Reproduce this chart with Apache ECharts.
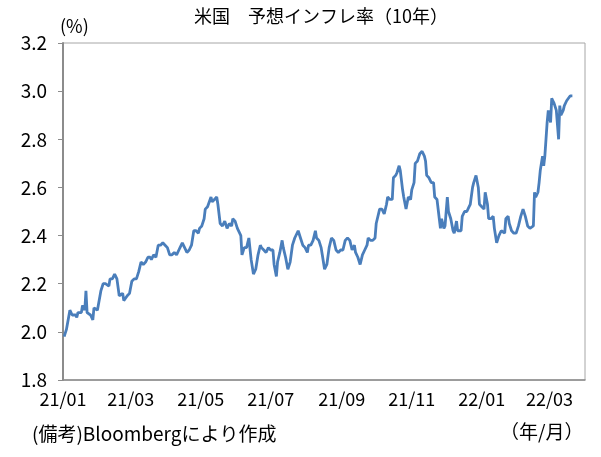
<!DOCTYPE html>
<html>
<head>
<meta charset="utf-8">
<script src="https://cdn.jsdelivr.net/npm/echarts@6/dist/echarts.min.js"></script>
<style>
  html, body { margin: 0; padding: 0; background: #fff; }
  #chart { width: 601px; height: 457px; }
</style>
</head>
<body>
<div id="chart"></div>
<script>
// days since 2021-01-01
const days = [
    1, 3, 6, 8, 11, 12, 13, 16, 17, 19,
    20, 21, 24, 26, 27, 30, 31, 33, 35, 37,
    40, 41, 43, 45, 47, 49, 52, 53, 56, 58,
    60, 62, 64, 66, 68, 70, 72, 74, 76, 77,
    79, 81, 83, 85, 87, 89, 91, 93, 95, 97,
    99, 101, 102, 104, 106, 108, 110, 112, 114, 116,
    118, 119, 121, 123, 124, 126, 129, 130, 132, 134,
    135, 137, 139, 141, 143, 145, 147, 148, 150, 152,
    154, 155, 156, 158, 160, 162, 164, 166, 168, 170,
    172, 173, 175, 177, 179, 181, 183, 184, 186, 187,
    189, 191, 192, 194, 196, 198, 200, 202, 205, 207,
    209, 211, 213, 214, 216, 218, 220, 221, 223, 225,
    226, 228, 230, 232, 234, 236, 238, 240, 242, 244,
    246, 248, 250, 252, 254, 255, 257, 259, 261, 263,
    265, 266, 268, 270, 272, 273, 274, 276, 278, 280,
    282, 283, 285, 287, 288, 290, 291, 293, 294, 296,
    297, 299, 301, 303, 304, 306, 307, 309, 311, 313,
    315, 316, 317, 319, 321, 323, 324, 326, 328, 329,
    330, 332, 333, 335, 336, 338, 340, 341, 343, 344,
    347, 348, 350, 352, 354, 355, 357, 358, 360, 362,
    363, 365, 367, 368, 370, 371, 373, 375, 376, 378,
    380, 382, 383, 385, 386, 388, 389, 391, 393, 395,
    397, 399, 401, 403, 405, 407, 410, 411, 412, 414,
    415, 416, 418, 419, 420, 421, 422, 423, 425, 426,
    427, 428, 430, 432, 433, 434, 436, 437, 439, 440,
    442, 444
];

// 10-year breakeven inflation rate (%)
const values = [
    1.98, 2.01, 2.09, 2.07, 2.07, 2.06, 2.08, 2.08, 2.11, 2.09,
    2.17, 2.08, 2.07, 2.05, 2.10, 2.09, 2.09, 2.17, 2.20, 2.20,
    2.19, 2.22, 2.22, 2.24, 2.22, 2.15, 2.16, 2.13, 2.15, 2.16,
    2.21, 2.22, 2.22, 2.25, 2.29, 2.28, 2.29, 2.31, 2.31, 2.30,
    2.32, 2.31, 2.36, 2.36, 2.37, 2.36, 2.35, 2.32, 2.32, 2.33,
    2.32, 2.34, 2.35, 2.37, 2.35, 2.33, 2.34, 2.36, 2.42, 2.42,
    2.41, 2.43, 2.44, 2.47, 2.51, 2.52, 2.56, 2.54, 2.55, 2.56,
    2.53, 2.45, 2.44, 2.46, 2.43, 2.45, 2.44, 2.47, 2.46, 2.43,
    2.41, 2.40, 2.32, 2.35, 2.35, 2.39, 2.30, 2.24, 2.26, 2.32,
    2.36, 2.35, 2.34, 2.33, 2.35, 2.34, 2.34, 2.28, 2.23, 2.29,
    2.33, 2.38, 2.35, 2.31, 2.26, 2.29, 2.36, 2.39, 2.42, 2.39,
    2.36, 2.35, 2.33, 2.36, 2.36, 2.38, 2.42, 2.39, 2.38, 2.35,
    2.32, 2.26, 2.28, 2.35, 2.39, 2.38, 2.34, 2.33, 2.34, 2.34,
    2.38, 2.39, 2.38, 2.34, 2.36, 2.33, 2.31, 2.28, 2.32, 2.34,
    2.36, 2.39, 2.38, 2.38, 2.39, 2.45, 2.47, 2.51, 2.51, 2.49,
    2.53, 2.56, 2.55, 2.55, 2.64, 2.65, 2.66, 2.69, 2.67, 2.59,
    2.56, 2.51, 2.56, 2.55, 2.59, 2.62, 2.70, 2.71, 2.74, 2.75,
    2.73, 2.71, 2.65, 2.64, 2.62, 2.62, 2.56, 2.55, 2.47, 2.43,
    2.47, 2.43, 2.44, 2.56, 2.50, 2.47, 2.42, 2.41, 2.46, 2.42,
    2.42, 2.48, 2.50, 2.50, 2.52, 2.53, 2.60, 2.62, 2.65, 2.60,
    2.53, 2.52, 2.51, 2.58, 2.53, 2.47, 2.47, 2.48, 2.43, 2.37,
    2.40, 2.42, 2.42, 2.41, 2.47, 2.48, 2.45, 2.42, 2.41, 2.41,
    2.44, 2.48, 2.51, 2.48, 2.44, 2.43, 2.44, 2.58, 2.56, 2.58,
    2.62, 2.67, 2.73, 2.69, 2.73, 2.80, 2.87, 2.92, 2.87, 2.97,
    2.96, 2.95, 2.92, 2.80, 2.94, 2.90, 2.92, 2.94, 2.96, 2.96,
    2.98, 2.98
];

// x labels: first day of each labelled month, as days since 2021-01-01
const tickDays = [0, 59, 120, 181, 243, 304, 365, 424];
const tickLabels = ['21/01', '21/03', '21/05', '21/07', '21/09', '21/11', '22/01', '22/03'];
const xEnd = 455; // 2022-04-01

const yMin = 1.8;
const yMax = 3.2;
const yStep = 0.2;

const titleText = '米国　予想インフレ率（10年）';
const unitText = '(%)';
const noteText = '(備考)Bloombergにより作成';
const xUnitText = '（年/月）';

function drawChart() {
    const myChart = echarts.init(document.getElementById('chart'), null, {
        renderer: 'canvas'
    });
    const font = '"Noto Sans CJK JP", "Noto Sans", sans-serif';
    const seriesData = days.map(function (d, i) {
        return [d, values[i]];
    });

    const option = {
        animation: false,
        textStyle: { fontFamily: font },
        grid: {
            left: 63,
            right: 16,
            top: 43,
            bottom: 77,
            show: true,
            borderColor: '#a6a6a6',
            borderWidth: 1
        },
        xAxis: {
            type: 'value',
            min: 0,
            max: xEnd,
            axisLine: { show: true, lineStyle: { color: '#8c8c8c', width: 1.5 } },
            axisTick: { show: false },
            splitLine: { show: false },
            axisLabel: {
                customValues: tickDays,
                color: '#000',
                fontSize: 18,
                fontFamily: font,
                margin: 10,
                formatter: function (v) {
                    const i = tickDays.indexOf(Math.round(v));
                    return i >= 0 ? tickLabels[i] : '';
                }
            }
        },
        yAxis: {
            type: 'value',
            min: yMin,
            max: yMax,
            interval: yStep,
            axisLine: { show: true, lineStyle: { color: '#8c8c8c', width: 2 } },
            axisTick: { show: true, inside: false, length: 5, lineStyle: { color: '#8c8c8c' } },
            splitLine: { show: false },
            axisLabel: {
                color: '#000',
                fontSize: 19,
                fontFamily: font,
                margin: 16,
                formatter: function (v) { return v.toFixed(1); }
            }
        },
        series: [{
            type: 'line',
            data: seriesData,
            showSymbol: false,
            lineStyle: { color: '#4a7ebb', width: 2.8 },
            itemStyle: { color: '#4a7ebb' }
        }],
        graphic: [{
            type: 'text',
            x: 321,
            y: 7,
            style: { text: titleText, fill: '#000', font: '18px ' + font, textAlign: 'center' }
        }, {
            type: 'text',
            left: 60,
            top: 17,
            style: { text: unitText, fill: '#000', font: '18px ' + font }
        }, {
            type: 'text',
            left: 32,
            top: 424,
            style: { text: noteText, fill: '#000', font: '19px ' + font }
        }, {
            type: 'text',
            left: 500,
            top: 422,
            style: { text: xUnitText, fill: '#000', font: '19px ' + font }
        }]
    };
    myChart.setOption(option);
}

drawChart();
</script>
</body>
</html>
